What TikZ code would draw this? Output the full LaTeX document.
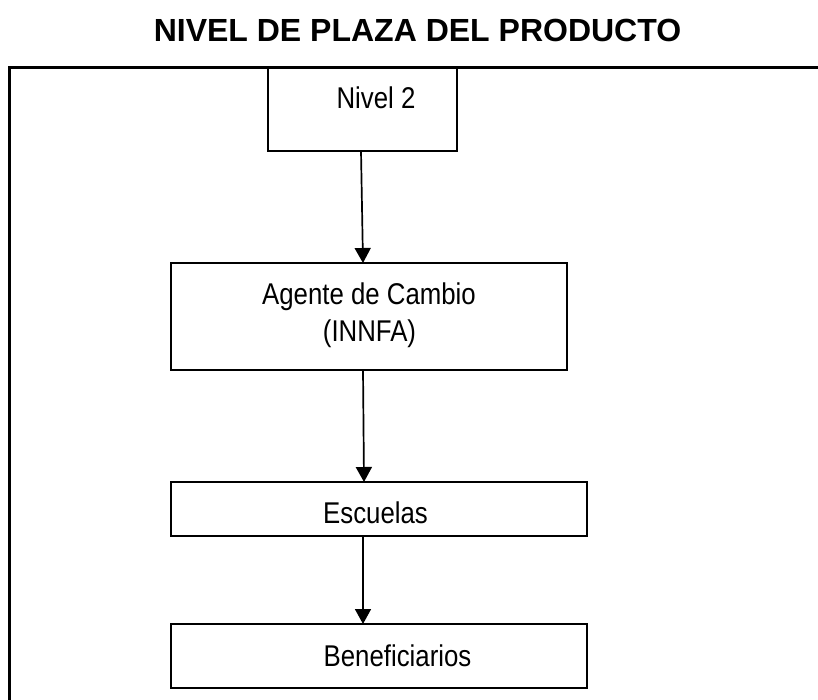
\documentclass[tikz,border=0pt]{standalone}
\usepackage{fontspec}
\setmainfont{Liberation Sans}
\newfontfamily\bodyfont{Liberation Sans}[FakeStretch=0.86]
\newfontfamily\headfont{Liberation Sans}
\usetikzlibrary{arrows.meta}
\begin{document}
\begin{tikzpicture}[x=1pt,y=-1pt,
  box/.style={draw=black, line width=1.6pt, fill=none, inner sep=0pt, outer sep=0pt},
  lbl/.style={font=\bodyfont\fontsize{30}{36}\selectfont, inner sep=0pt, anchor=base},
  arr/.style={line width=1.7pt, -{Triangle[width=16pt,length=15pt]}},
  frame/.style={line width=3pt}]
\useasboundingbox (0,0) rectangle (818,700);
% title
\node[font=\headfont\bfseries\fontsize{32}{38}\selectfont, inner sep=0pt, anchor=base] (title) at (417.5,42) {NIVEL DE PLAZA DEL PRODUCTO};
% outer frame
\draw[frame] (9.5,701) -- (9.5,68) -- (819,68);
% boxes
\node[box, minimum width=189pt, minimum height=83pt] (b1) at (362.5,109.5) {};
\node[box, minimum width=396pt, minimum height=107pt] (b2) at (369,316.5) {};
\node[box, minimum width=416pt, minimum height=54pt] (b3) at (379,509) {};
\node[box, minimum width=416pt, minimum height=64pt] (b4) at (379,656) {};
% texts
\node[lbl] (t1) at (376,109) {Nivel 2};
\node[lbl] (t2a) at (369,304) {Agente de Cambio};
\node[lbl] (t2b) at (369.5,341) {(INNFA)};
\node[lbl] (t3) at (375.5,523) {Escuelas};
\node[lbl] (t4) at (397.5,666) {Beneficiarios};
% connectors
\draw[arr] ([xshift=-1.5pt]b1.south) -- ([xshift=-6pt]b2.north);
\draw[arr] ([xshift=-6pt]b2.south) -- ([xshift=-15pt]b3.north);
\draw[arr] ([xshift=-16pt]b3.south) -- ([xshift=-16pt]b4.north);
\end{tikzpicture}
\end{document}
